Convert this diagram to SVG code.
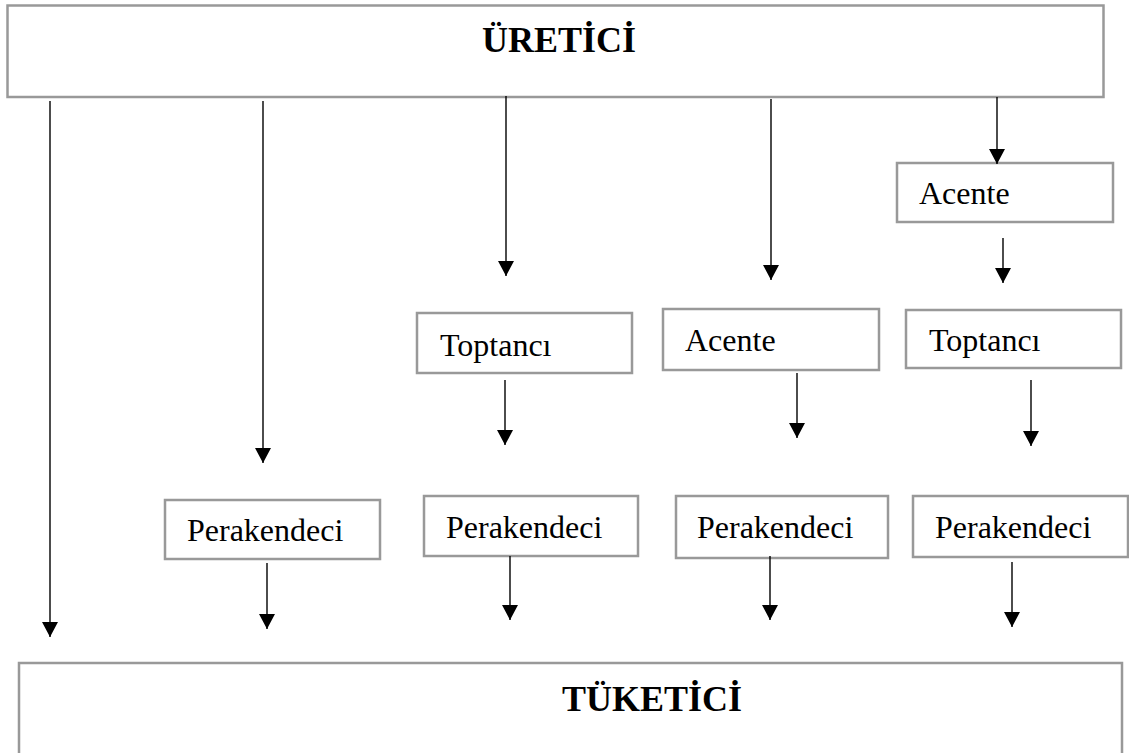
<svg xmlns="http://www.w3.org/2000/svg" width="1129" height="753" viewBox="0 0 1129 753">
  <defs>
    <!-- solid triangular head, drawn pointing along +x so orient="auto" aims it down the line -->
    <marker id="arrow" markerUnits="userSpaceOnUse" markerWidth="16" markerHeight="16" refX="15" refY="8" orient="auto" viewBox="0 0 16 16">
      <path d="M0,0 L15,8 L0,16 Z" fill="#000"/>
    </marker>
  </defs>
  <style>
    .box { fill: #fff; stroke: #999; stroke-width: 2.5; }
    .lbl { font-family: "Liberation Serif", "Times New Roman", serif; font-size: 32px; fill: #000; }
    .title { font-family: "Liberation Serif", "Times New Roman", serif; font-size: 36px; font-weight: bold; fill: #000; }
    .conn line { stroke: #000; stroke-width: 1.4; marker-end: url(#arrow); }
  </style>
  <rect width="1129" height="753" fill="#fff"/>

  <g id="uretici">
    <rect class="box" x="7.5" y="5.5" width="1096" height="91.5"/>
    <text class="title" x="559" y="52" text-anchor="middle">ÜRETİCİ</text>
  </g>

  <g id="acente-top">
    <rect class="box" x="897" y="163" width="216" height="59"/>
    <text class="lbl" x="919" y="204">Acente</text>
  </g>

  <g id="toptanci-1">
    <rect class="box" x="417" y="313" width="215" height="60"/>
    <text class="lbl" x="440" y="356">Toptancı</text>
  </g>

  <g id="acente-1">
    <rect class="box" x="663" y="309" width="216" height="61"/>
    <text class="lbl" x="685" y="351">Acente</text>
  </g>

  <g id="toptanci-2">
    <rect class="box" x="906" y="310" width="215" height="58"/>
    <text class="lbl" x="929" y="351">Toptancı</text>
  </g>

  <g id="perakendeci-1">
    <rect class="box" x="165" y="500" width="215" height="59"/>
    <text class="lbl" x="187" y="541">Perakendeci</text>
  </g>

  <g id="perakendeci-2">
    <rect class="box" x="424" y="496" width="214" height="60"/>
    <text class="lbl" x="446" y="538">Perakendeci</text>
  </g>

  <g id="perakendeci-3">
    <rect class="box" x="676" y="496" width="212" height="62"/>
    <text class="lbl" x="697" y="538">Perakendeci</text>
  </g>

  <g id="perakendeci-4">
    <rect class="box" x="913" y="496" width="215" height="61"/>
    <text class="lbl" x="935" y="538">Perakendeci</text>
  </g>

  <g id="tuketici">
    <rect class="box" x="19" y="663" width="1103" height="95"/>
    <text class="title" x="652" y="711" text-anchor="middle">TÜKETİCİ</text>
  </g>

  <g id="connectors" class="conn">
    <line x1="50" y1="101" x2="50" y2="637"/>
    <line x1="263" y1="101" x2="263" y2="463"/>
    <line x1="506" y1="96" x2="506" y2="276"/>
    <line x1="771" y1="99" x2="771" y2="280"/>
    <line x1="997" y1="97" x2="997" y2="164"/>
    <line x1="1003" y1="238" x2="1003" y2="283"/>
    <line x1="505" y1="380" x2="505" y2="445"/>
    <line x1="797" y1="373" x2="797" y2="438"/>
    <line x1="1031" y1="380" x2="1031" y2="446"/>
    <line x1="267" y1="563" x2="267" y2="629"/>
    <line x1="510" y1="556" x2="510" y2="620"/>
    <line x1="770" y1="556" x2="770" y2="620"/>
    <line x1="1012" y1="562" x2="1012" y2="627"/>
  </g>
</svg>
